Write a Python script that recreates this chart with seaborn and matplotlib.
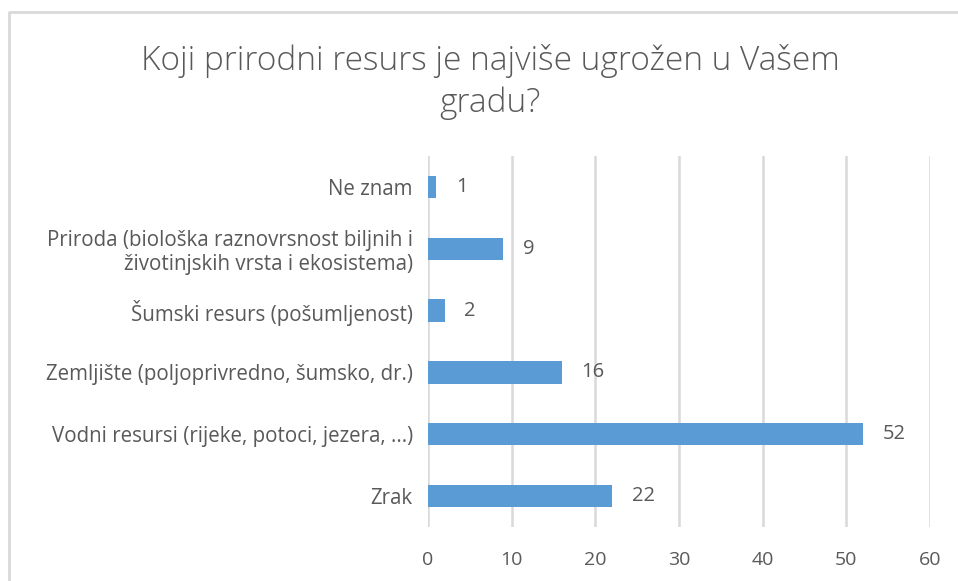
import matplotlib
matplotlib.use("Agg")
import matplotlib.pyplot as plt
import seaborn as sns
import pandas as pd
from matplotlib.lines import Line2D

categories = [
    "Ne znam",
    "Priroda (biološka raznovrsnost biljnih i\nživotinjskih vrsta i ekosistema)",
    "Šumski resurs (pošumljenost)",
    "Zemljište (poljoprivredno, šumsko, dr.)",
    "Vodni resursi (rijeke, potoci, jezera, ...)",
    "Zrak",
]
values = [1, 9, 2, 16, 52, 22]
x_ticks = [0, 10, 20, 30, 40, 50, 60]
title = "Koji prirodni resurs je najviše ugrožen u Vašem\ngradu?"

sns.set_theme(style="white")
plt.rcParams["font.family"] = ["Open Sans", "DejaVu Sans"]

text_color = "#595959"
bar_color = "#5B9BD5"
grid_color = "#D9D9D9"

df = pd.DataFrame({"cat": categories, "val": values})

fig = plt.figure(figsize=(9.58, 5.81), dpi=100)
ax = fig.add_axes([428 / 958, 1 - 527 / 581, (930 - 428) / 958, (527 - 156) / 581])

sns.barplot(data=df, y="cat", x="val", orient="h", color=bar_color,
            width=0.36, ax=ax, saturation=1, edgecolor=bar_color, linewidth=0)

ax.set_xlim(0, 60)
ax.set_xticks(x_ticks)
ax.set_xticklabels([str(t) for t in x_ticks], color=text_color, fontsize=14)
ax.tick_params(axis="x", length=0, pad=17)
ax.tick_params(axis="y", length=0, pad=11)
for lbl in ax.get_yticklabels():
    lbl.set_color(text_color)
    lbl.set_fontsize(14.8)
    lbl.set_linespacing(1.2)
ax.set_xlabel("")
ax.set_ylabel("")
for s in ax.spines.values():
    s.set_visible(False)
ax.xaxis.grid(True, color=grid_color, linewidth=1.8)
ax.set_axisbelow(True)

for c in ax.containers:
    ax.bar_label(c, labels=[str(v) for v in values], padding=14,
                 color=text_color, fontsize=14.5)

fig.text(490 / 958, 1 - 82 / 581, title, ha="center", va="center",
         fontsize=24, color=text_color, linespacing=1.3, fontweight="light")

fig.add_artist(Line2D([9 / 958, 9 / 958, 1], [0, 1 - 12 / 581, 1 - 12 / 581],
                      transform=fig.transFigure, color=grid_color, linewidth=2))

fig.savefig("out.png", dpi=100, facecolor="white")
